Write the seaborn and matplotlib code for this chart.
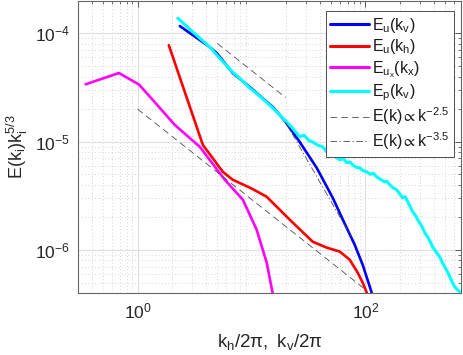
import numpy as np
import pandas as pd
import matplotlib
matplotlib.use("Agg")
import matplotlib.pyplot as plt
import seaborn as sns
from matplotlib.ticker import LogLocator, FuncFormatter, NullFormatter

# ---------------- data ----------------
kv_u = [2.35, 4.31, 4.96, 6.85, 9.66, 15.4, 19.6, 26.5, 37.4, 51.7, 68.5, 80.5, 94.6, 113.5]
Eu_kv = [1.17e-4, 7.48e-5, 6.58e-5, 4.31e-5, 3.20e-5, 2.09e-5, 1.56e-5, 9.95e-6,
         5.73e-6, 3.03e-6, 1.60e-6, 1.12e-6, 7.32e-7, 4.05e-7]

kh_u = [1.88, 3.74, 5.60, 6.85, 10.0, 13.6, 21.7, 34.5, 45.8, 59.6, 72.8, 85.6, 94.6, 102.6, 108.0]
Eu_kh = [7.8e-5, 9.35e-6, 5.27e-6, 4.45e-6, 3.7e-6, 3.10e-6, 1.90e-6, 1.19e-6, 1.05e-6,
         9.65e-7, 8.13e-7, 6.17e-7, 5.0e-7, 4.05e-7, 3.3e-7]

kx_ux = [0.35, 0.686, 1.03, 1.36, 2.12, 3.52, 5.83, 8.4, 11.1, 13.6, 15.3, 17.0]
Eux_kx = [3.39e-5, 4.31e-5, 3.37e-5, 2.43e-5, 1.43e-5, 8.96e-6, 4.45e-6, 2.91e-6,
          1.54e-6, 7.64e-7, 4.05e-7, 2.2e-7]

kv_p = [2.26, 3.0, 4.31, 5.5, 6.85, 8.0, 9.66, 12, 15, 18.8, 22, 26.5, 29, 32, 34.5,
        38, 42.2, 45, 48, 51.7, 55, 59.6, 64, 68.5, 73, 77.4, 83, 89.2, 95, 102.6,
        110, 118, 125.6, 135, 147.6, 155, 163.3, 175, 188, 200, 212, 224, 235, 248,
        260, 274, 288, 303, 318, 335, 352, 370, 389, 420, 449, 475, 497, 525, 550,
        580, 607, 640, 671]
Ep_kv = [1.38e-4, 1.05e-4, 7.48e-5, 5.6e-5, 4.4e-5, 3.8e-5, 3.13e-5, 2.6e-5, 2.1e-5,
         1.66e-5, 1.4e-5, 1.11e-5, 1.15e-5, 1.02e-5, 9.95e-6, 9.3e-6, 8.96e-6, 8.2e-6,
         8.4e-6, 7.55e-6, 7.2e-6, 6.79e-6, 7.0e-6, 6.4e-6, 6.5e-6, 6.11e-6, 5.8e-6,
         5.73e-6, 5.4e-6, 5.27e-6, 5.0e-6, 5.1e-6, 4.74e-6, 4.5e-6, 4.26e-6, 4.3e-6,
         4.0e-6, 3.75e-6, 3.6e-6, 3.3e-6, 3.03e-6, 3.1e-6, 2.79e-6, 2.5e-6, 2.25e-6,
         2.1e-6, 1.9e-6, 1.75e-6, 1.6e-6, 1.42e-6, 1.32e-6, 1.2e-6, 1.07e-6, 9.5e-7,
         8.67e-7, 7.6e-7, 7.0e-7, 6.3e-7, 5.67e-7, 5.0e-7, 4.59e-7, 4.3e-7, 4.13e-7]

# reference power laws (compensated by k^{5/3})
k_ref25a = [1.0, 100.0]; c_ref25a = 2.0e-5
k_ref25b = [5.0, 20.0];  c_ref25b = 8.1e-5 * 5.0 ** (2.5 - 5 / 3)
k_ref35 = [20.0, 75.0];  c_ref35 = 1.5e-5 * 20.0 ** (3.5 - 5 / 3)

labels = [r'$\mathregular{E_u(k_v)}$', r'$\mathregular{E_u(k_h)}$',
          r'$\mathregular{E_{u_x}(k_x)}$', r'$\mathregular{E_p(k_v)}$',
          r'$\mathregular{E(k)\propto k^{-2.5}}$', r'$\mathregular{E(k)\propto k^{-3.5}}$']

# ---------------- style ----------------
sns.set_style("white")
plt.rcParams['font.family'] = ['Liberation Sans', 'DejaVu Sans']
plt.rcParams['mathtext.fontset'] = 'custom'
plt.rcParams['mathtext.rm'] = 'Liberation Sans'
plt.rcParams['mathtext.it'] = 'Liberation Sans'
plt.rcParams['mathtext.sf'] = 'Liberation Sans'

fig = plt.figure(figsize=(4.63, 3.55), dpi=100)
ax = fig.add_axes([0.1685, 0.1746, 0.827, 0.823])

def comp(k, c, p):
    k = np.asarray(k, float)
    return c * k ** (-p) * k ** (5 / 3)

lw = 1.9
sns.lineplot(x=kv_u, y=Eu_kv, ax=ax, color=(0, 0, 1), lw=lw, sort=False,
             estimator=None, label=labels[0])
sns.lineplot(x=kh_u, y=Eu_kh, ax=ax, color=(1, 0, 0), lw=lw, sort=False,
             estimator=None, label=labels[1])
sns.lineplot(x=kx_ux, y=Eux_kx, ax=ax, color=(1, 0, 1), lw=lw, sort=False,
             estimator=None, label=labels[2])
sns.lineplot(x=kv_p, y=Ep_kv, ax=ax, color=(0, 1, 1), lw=2.2, sort=False,
             estimator=None, label=labels[3])

kk = np.geomspace(k_ref25a[0], k_ref25a[1], 50)
sns.lineplot(x=kk, y=comp(kk, c_ref25a, 2.5), ax=ax, color='0.3', lw=0.6,
             linestyle=(0, (8, 5)), label=labels[4])
kk = np.geomspace(k_ref25b[0], k_ref25b[1], 20)
ax.plot(kk, comp(kk, c_ref25b, 2.5), color='0.3', lw=0.6, linestyle=(0, (8, 5)))
kk = np.geomspace(k_ref35[0], k_ref35[1], 20)
sns.lineplot(x=kk, y=comp(kk, c_ref35, 3.5), ax=ax, color='0.3', lw=0.6,
             linestyle=(0, (8, 3, 1.5, 3)), label=labels[5])

ax.set_xscale('log')
ax.set_yscale('log')
ax.set_xlim(0.3, 690)
ax.set_ylim(4e-7, 2e-4)

ax.set_xticks([1, 100])
ax.set_yticks([1e-6, 1e-5, 1e-4])
fmt = FuncFormatter(lambda v, p: r'$\mathregular{10^{%d}}$' % int(round(np.log10(v))))
ax.xaxis.set_major_formatter(fmt)
ax.yaxis.set_major_formatter(fmt)
ax.minorticks_on()
ax.xaxis.set_minor_locator(LogLocator(base=10, subs=np.arange(2, 10), numticks=20))
ax.yaxis.set_minor_locator(LogLocator(base=10, subs=np.arange(2, 10), numticks=20))
ax.xaxis.set_minor_formatter(NullFormatter())
ax.yaxis.set_minor_formatter(NullFormatter())
ax.grid(True, which='major', color='0.88', lw=0.8, ls='-')
ax.grid(True, which='minor', color='0.78', lw=0.6, ls=(0, (1, 3)))
ax.set_axisbelow(True)

ax.tick_params(which='both', direction='in', top=True, right=True, colors='0.25',
               labelcolor='0.15', labelsize=12.5)
ax.tick_params(which='major', length=4, width=0.6, pad=6)
ax.tick_params(which='minor', length=2.5, width=0.5)
for s in ax.spines.values():
    s.set_color('0.4')
    s.set_linewidth(0.8)

ax.set_xlabel(r'$\mathregular{k_h/2\pi,\ k_v/2\pi}$', fontsize=13.5, color='0.15', labelpad=8)
ax.set_ylabel(r'$\mathregular{E(k_i)k_i^{5/3}}$', fontsize=13, color='0.15')
ax.yaxis.set_label_coords(-0.125, 0.5)

leg = ax.legend(loc='upper right', bbox_to_anchor=(0.982, 0.966), fontsize=11.5,
                frameon=True, fancybox=False, edgecolor='0.3', framealpha=1,
                handlelength=2.4, handletextpad=0.2, labelspacing=0.17,
                borderpad=0.3, borderaxespad=0)
leg.get_frame().set_linewidth(0.7)
for t in leg.get_texts():
    t.set_color('0.1')
for h in leg.get_lines()[:4]:
    h.set_linewidth(2.2)

fig.savefig('out.png', dpi=100)
